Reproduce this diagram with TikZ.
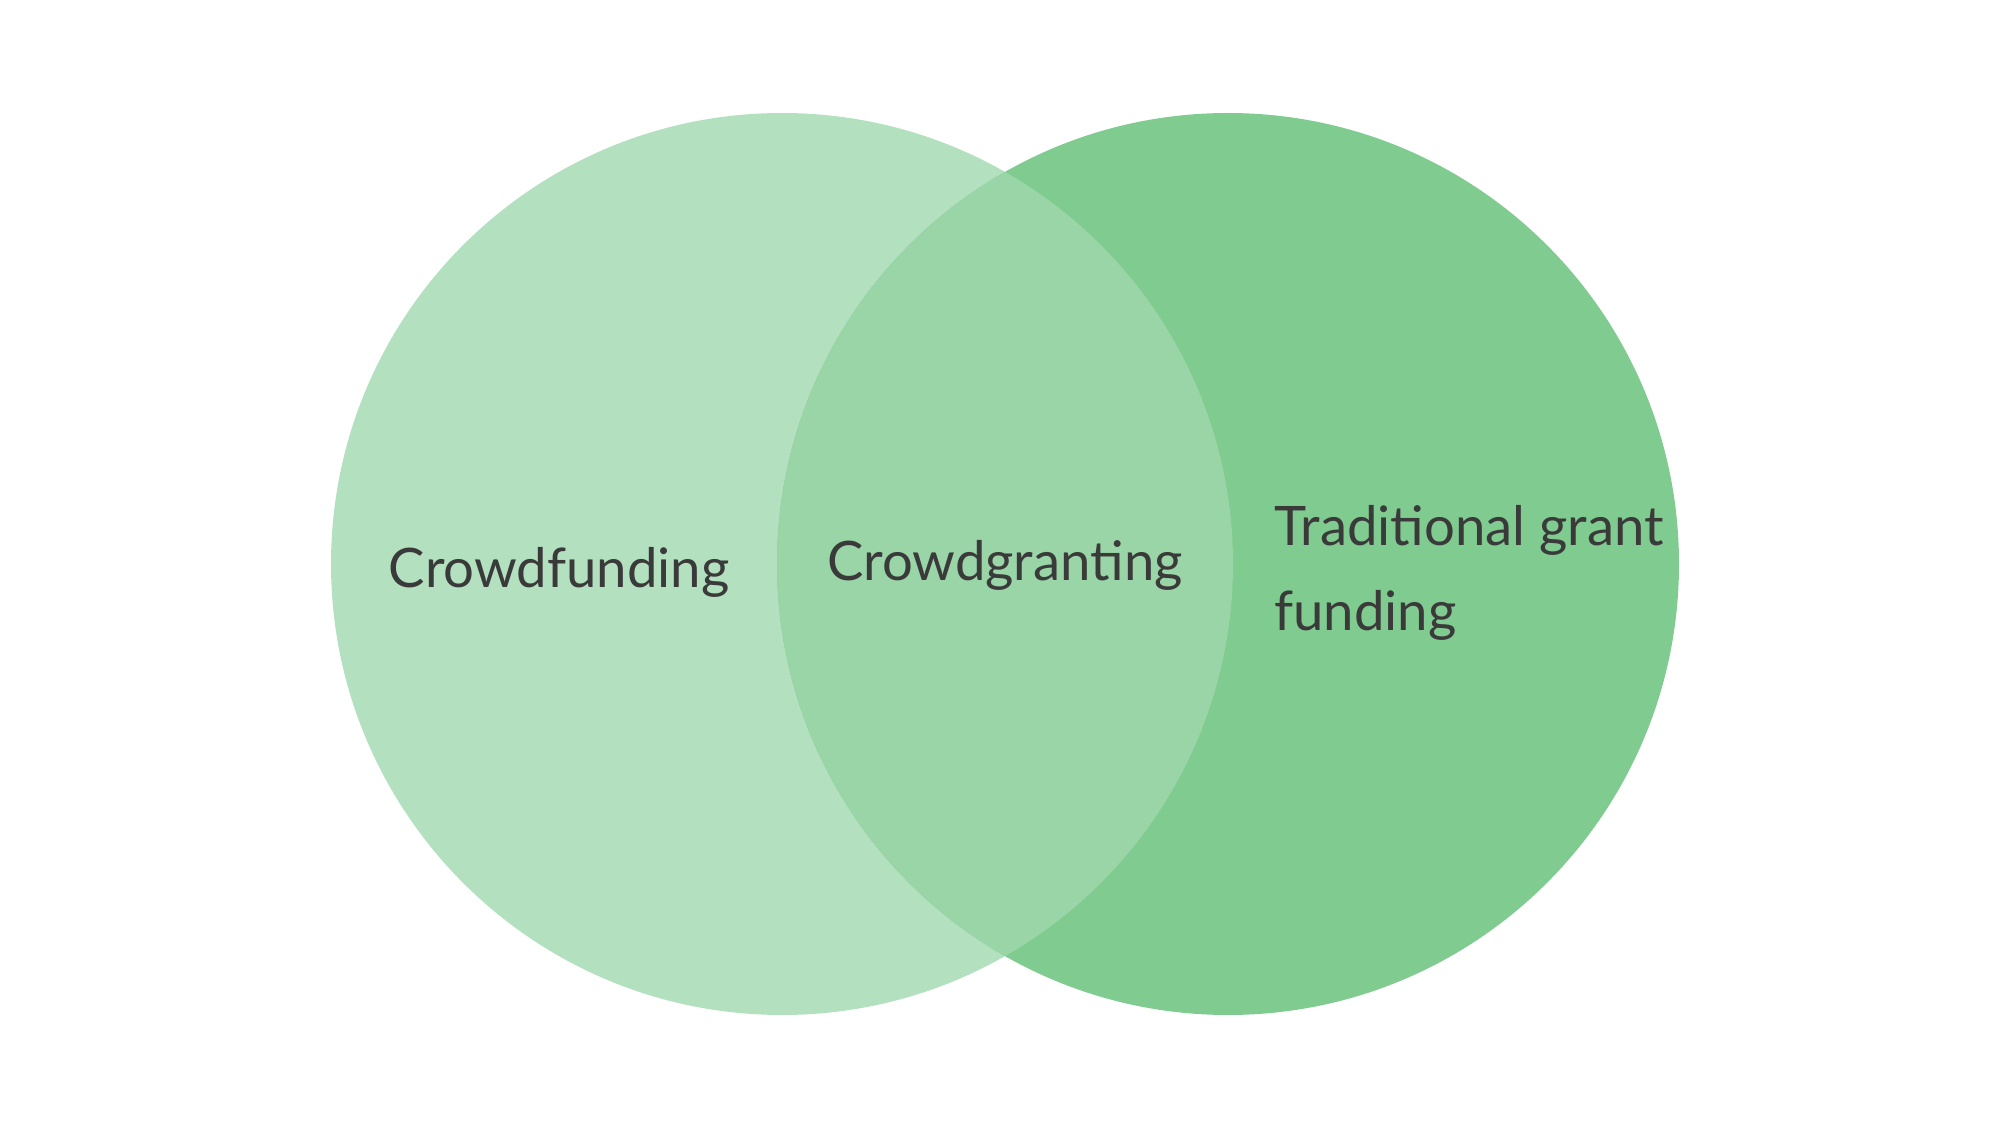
\documentclass[tikz,border=0pt]{standalone}
\usepackage{fontspec}
\setmainfont{Lato}
\usepackage{xcolor}
\definecolor{leftgreen}{HTML}{B3E0BE}
\definecolor{rightgreen}{HTML}{80CB90}
\definecolor{midgreen}{HTML}{99D5A6}
\definecolor{labelgray}{HTML}{3A3A3A}
\tikzstyle{lbl}=[text=labelgray, font=\fontsize{15.5}{24}\selectfont]
\newcommand{\vennR}{4.51}
\begin{document}
\begin{tikzpicture}
\useasboundingbox (0,0) rectangle (20,11.25);
\coordinate (cl) at (7.82,5.61);
\coordinate (cr) at (12.28,5.61);
\fill[leftgreen] (cl) circle (\vennR);
\fill[rightgreen] (cr) circle (\vennR);
\begin{scope}
\clip (cl) circle (\vennR);
\fill[midgreen] (cr) circle (\vennR);
\end{scope}
\node[lbl] (crowdfunding) at (5.59,5.53) {Crowdfunding};
\node[lbl] (crowdgranting) at (10.05,5.60) {Crowdgranting};
\node[lbl, anchor=west, align=left] (traditional) at (12.62,5.52) {Traditional grant\\funding};
\end{tikzpicture}
\end{document}
